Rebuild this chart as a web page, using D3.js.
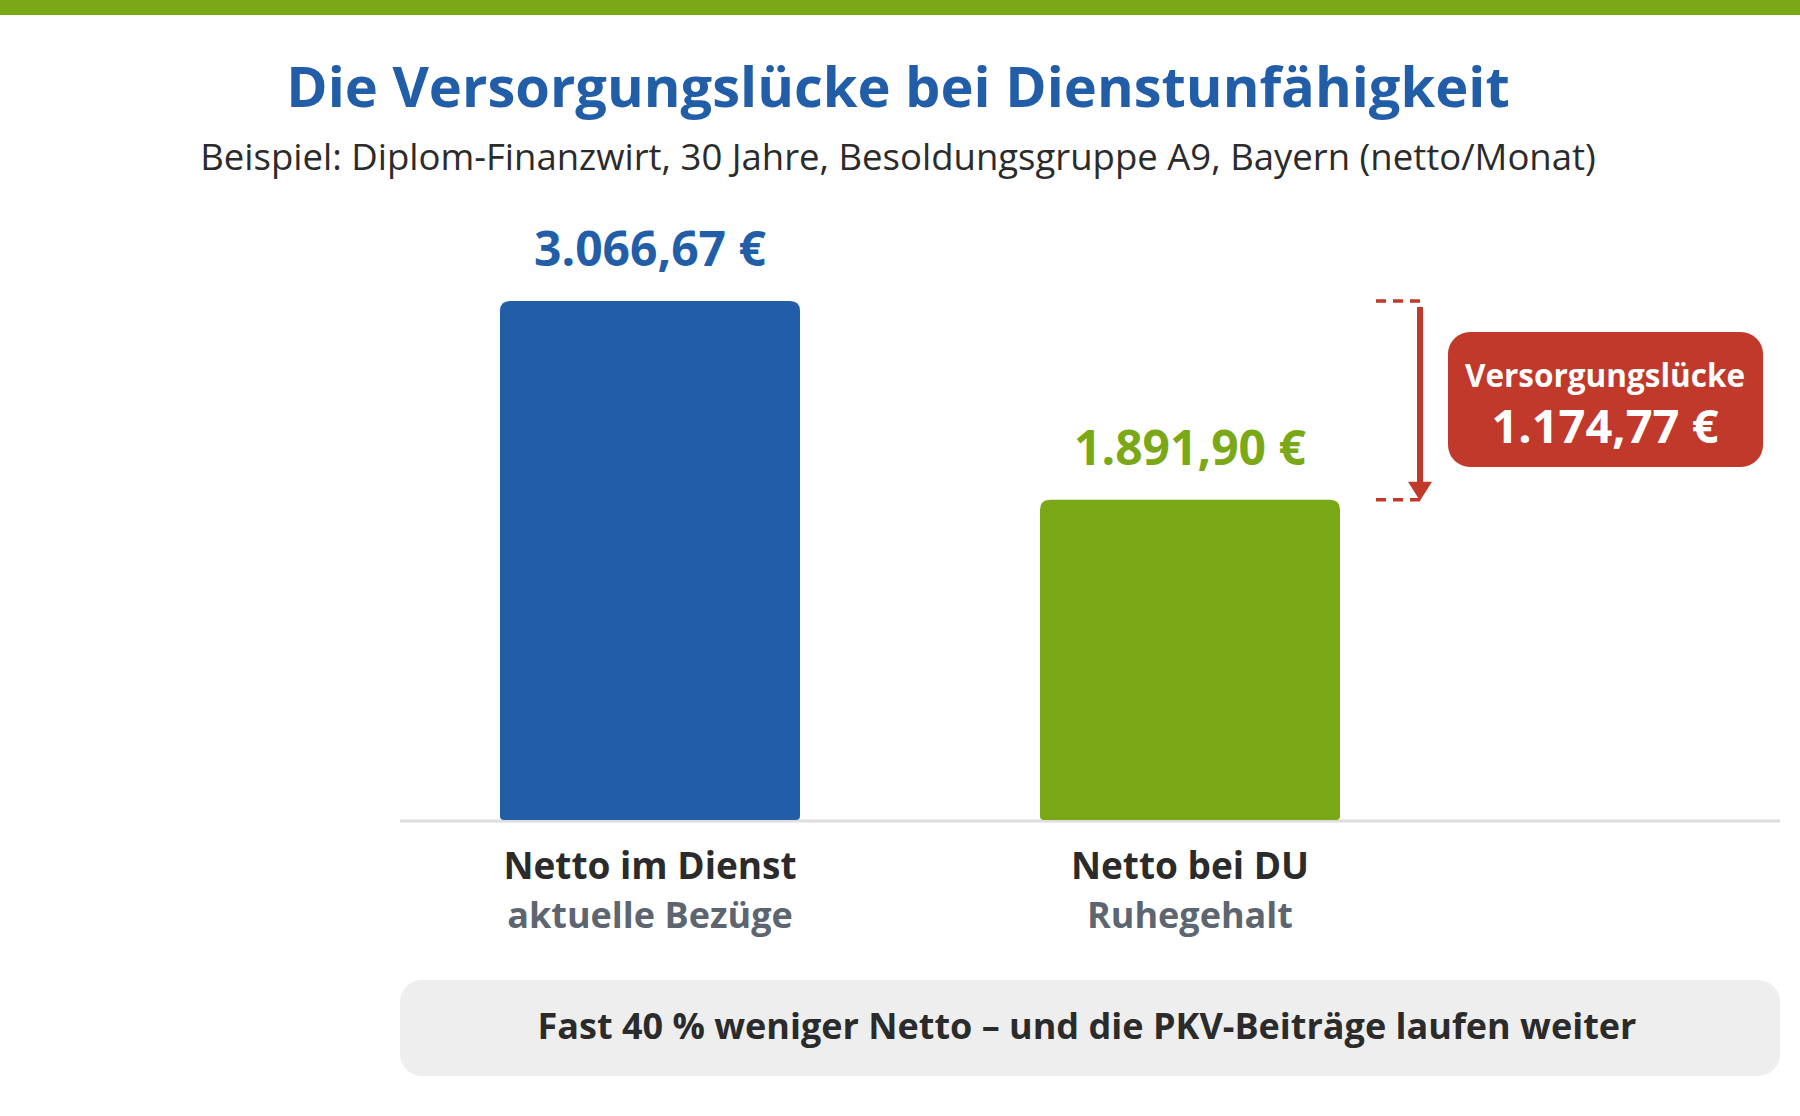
<!DOCTYPE html>
<html><head><meta charset="utf-8">
<script src="https://cdn.jsdelivr.net/npm/d3@7"></script>
<style>body{margin:0;background:#fff}text{font-family:"Open Sans",sans-serif}</style>
</head><body><svg id="c" width="1800" height="1116"></svg>
<script>
var categories = ["Netto im Dienst", "Netto bei DU"];
var subLabels = ["aktuelle Bezüge", "Ruhegehalt"];
var values = [3066.67, 1891.90];
var valueLabels = ["3.066,67 €", "1.891,90 €"];
var colors = ["#225da8", "#7aa817"];
var gap = values[0] - values[1];

var svg = d3.select("#c");
var fmt = function (v) { return d3.format(",.2f")(v).replace(/,/g, "#").replace(".", ",").replace(/#/g, ".") + " €"; };

svg.append("rect").attr("width", 1800).attr("height", 15).attr("fill", "#7aa817");
svg.append("text").attr("x", 898).attr("y", 107).attr("text-anchor", "middle")
    .attr("font-size", 56).attr("font-weight", 700).attr("fill", "#225da8")
    .text("Die Versorgungslücke bei Dienstunfähigkeit");
svg.append("text").attr("x", 898).attr("y", 170).attr("text-anchor", "middle")
    .attr("font-size", 36.5).attr("fill", "#2b2b2b")
    .text("Beispiel: Diplom-Finanzwirt, 30 Jahre, Besoldungsgruppe A9, Bayern (netto/Monat)");

var x = d3.scaleBand().domain(categories).range([500, 1340]).paddingInner(0.4444).paddingOuter(0);
var y = d3.scaleLinear().domain([0, values[0]]).range([820, 301]);

svg.append("line").attr("x1", 400).attr("x2", 1780).attr("y1", 821).attr("y2", 821)
    .attr("stroke", "#dddddd").attr("stroke-width", 3);

var g = svg.selectAll("g.bar").data(categories).enter().append("g");
g.append("path").attr("fill", function (d, i) { return colors[i]; })
    .attr("d", function (d, i) {
        var x0 = x(d), w = x.bandwidth(), t = y(values[i]), b = y(0), r = 10;
        return "M" + x0 + "," + (b - 4) + "V" + (t + r) + "Q" + x0 + "," + t + " " + (x0 + r) + "," + t +
            "H" + (x0 + w - r) + "Q" + (x0 + w) + "," + t + " " + (x0 + w) + "," + (t + r) + "V" + (b - 4) +
            "Q" + (x0 + w) + "," + b + " " + (x0 + w - 4) + "," + b + "H" + (x0 + 4) + "Q" + x0 + "," + b + " " + x0 + "," + (b - 4) + "Z";
    });
g.append("text").attr("text-anchor", "middle").attr("font-size", 48).attr("font-weight", 700)
    .attr("x", function (d) { return x(d) + x.bandwidth() / 2; })
    .attr("y", function (d, i) { return y(values[i]) - 35; })
    .attr("fill", function (d, i) { return colors[i]; })
    .text(function (d, i) { return valueLabels[i]; });
g.append("text").attr("text-anchor", "middle").attr("font-size", 37).attr("font-weight", 700)
    .attr("fill", "#2b2b2b").attr("x", function (d) { return x(d) + x.bandwidth() / 2; }).attr("y", 879)
    .text(function (d) { return d; });
g.append("text").attr("text-anchor", "middle").attr("font-size", 36).attr("font-weight", 700)
    .attr("fill", "#5d6670").attr("x", function (d) { return x(d) + x.bandwidth() / 2; }).attr("y", 928)
    .text(function (d, i) { return subLabels[i]; });

// gap marker
var red = "#c0392b", ax = 1420;
[values[0], values[1]].forEach(function (v) {
    svg.append("line").attr("x1", 1376).attr("x2", ax).attr("y1", y(v)).attr("y2", y(v))
        .attr("stroke", red).attr("stroke-width", 3.5).attr("stroke-dasharray", "10,7");
});
svg.append("line").attr("x1", ax).attr("x2", ax).attr("y1", y(values[0]) + 6).attr("y2", y(values[1]) - 14)
    .attr("stroke", red).attr("stroke-width", 6);
svg.append("path").attr("fill", red)
    .attr("d", "M" + (ax - 12) + "," + (y(values[1]) - 18) + "L" + (ax + 12) + "," + (y(values[1]) - 18) + "L" + ax + "," + (y(values[1]) + 1) + "Z");
svg.append("rect").attr("x", 1448).attr("y", 332).attr("width", 315).attr("height", 135).attr("rx", 22).attr("fill", red);
svg.append("text").attr("x", 1605).attr("y", 387).attr("text-anchor", "middle").attr("font-size", 31.5)
    .attr("font-weight", 700).attr("fill", "#fff").text("Versorgungslücke");
svg.append("text").attr("x", 1605).attr("y", 443).attr("text-anchor", "middle").attr("font-size", 47)
    .attr("font-weight", 700).attr("fill", "#fff").text(fmt(gap));

svg.append("rect").attr("x", 400).attr("y", 980).attr("width", 1380).attr("height", 96).attr("rx", 22).attr("fill", "#eeeeee");
svg.append("text").attr("x", 1087).attr("y", 1039).attr("text-anchor", "middle").attr("font-size", 36)
    .attr("font-weight", 700).attr("fill", "#2b2b2b").text("Fast 40 % weniger Netto – und die PKV-Beiträge laufen weiter");
</script></body></html>
